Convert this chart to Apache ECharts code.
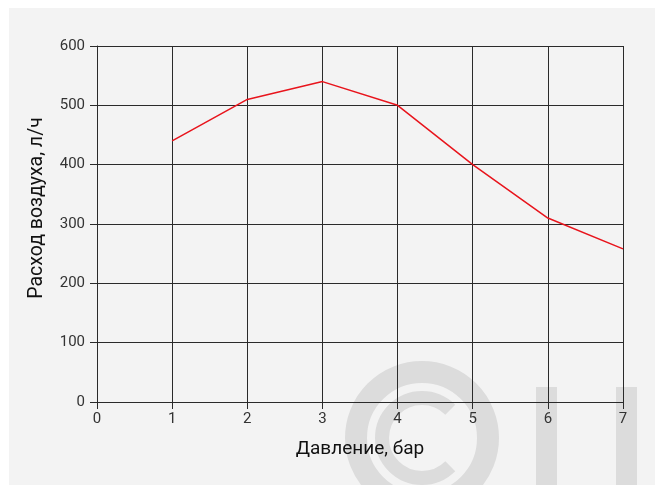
<!DOCTYPE html>
<html>
<head>
<meta charset="utf-8">
<script src="https://cdn.jsdelivr.net/npm/echarts@6/dist/echarts.min.js"></script>
<style>
  html, body { margin: 0; padding: 0; background: #fff; }
  #main { position: absolute; left: 9px; top: 8px; width: 646px; height: 477px; background: #f3f3f3; }
</style>
</head>
<body>
<div id="main"></div>
<script>
// давление, бар
var pressure = [1, 2, 3, 4, 5, 6, 7]
// расход воздуха, л/ч
var airFlow = [440, 510, 540, 500, 400, 310, 258]

var xTicks = { min: 0, max: 7, step: 1 }
var yTicks = { min: 0, max: 600, step: 100 }

var myChart = echarts.init(document.getElementById('main'))
var option

var font = 'Roboto'
var wm = '#dcdcdc' // водяной знак

option = {
  backgroundColor: 'transparent',
  animation: false,
  grid: {
    left: 88,
    right: 32,
    top: 38,
    bottom: 83
  },
  graphic: [
    // водяной знак
    { type: 'circle', z: -10, silent: true, shape: { cx: 413, cy: 430, r: 66 }, style: { fill: 'none', stroke: wm, lineWidth: 22 } },
    { type: 'arc', z: -10, silent: true, shape: { cx: 413, cy: 430, r: 40, startAngle: Math.PI * 0.25, endAngle: Math.PI * 1.75 }, style: { fill: 'none', stroke: wm, lineWidth: 14 } },
    { type: 'rect', z: -10, silent: true, shape: { x: 527, y: 379, width: 21, height: 120 }, style: { fill: wm } },
    { type: 'rect', z: -10, silent: true, shape: { x: 607, y: 379, width: 21, height: 120 }, style: { fill: wm } },
    // подпись оси Y
    {
      type: 'text',
      rotation: Math.PI / 2,
      x: 28,
      y: 200,
      style: {
        text: 'Расход воздуха, л/ч',
        fill: '#111',
        font: '19.5px ' + font,
        textAlign: 'center',
        textVerticalAlign: 'middle'
      }
    }
  ],
  xAxis: {
    type: 'value',
    min: xTicks.min,
    max: xTicks.max,
    interval: xTicks.step,
    name: 'Давление, бар',
    nameLocation: 'middle',
    nameGap: 38,
    nameTextStyle: { color: '#111', fontSize: 19, fontFamily: font },
    axisLine: { onZero: false, lineStyle: { color: '#2a2a2a', width: 1 } },
    axisTick: { show: true, length: 7, lineStyle: { color: '#2a2a2a' } },
    axisLabel: { color: '#333', fontSize: 15, fontFamily: font, margin: 10 },
    splitLine: { show: true, lineStyle: { color: '#2a2a2a', width: 1 } }
  },
  yAxis: {
    type: 'value',
    min: yTicks.min,
    max: yTicks.max,
    interval: yTicks.step,
    axisLine: { show: true, lineStyle: { color: '#2a2a2a', width: 1 } },
    axisTick: { show: true, length: 7, lineStyle: { color: '#2a2a2a' } },
    axisLabel: { color: '#333', fontSize: 15, fontFamily: font, margin: 12 },
    splitLine: { show: true, lineStyle: { color: '#2a2a2a', width: 1 } }
  },
  series: [
    {
      type: 'line',
      data: pressure.map(function(p, i) { return [p, airFlow[i]] }),
      showSymbol: false,
      symbol: 'none',
      lineStyle: { color: '#e8141c', width: 1.5 },
      z: 5
    }
  ]
}

option && myChart.setOption(option)
</script>
</body>
</html>
